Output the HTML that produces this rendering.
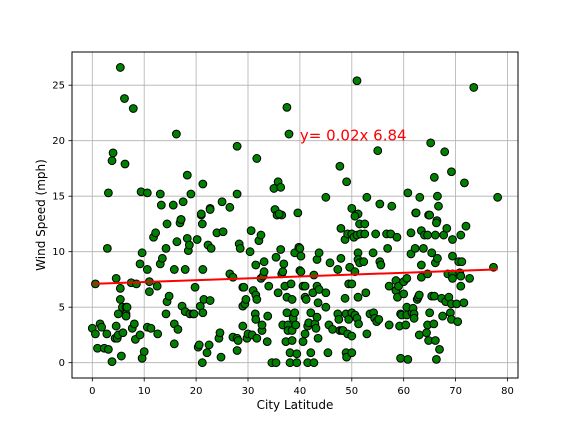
<!DOCTYPE html>
<html><head><meta charset="utf-8"><style>
body{margin:0;background:#fff}
svg{display:block;font-family:"DejaVu Sans","Liberation Sans",sans-serif}
</style></head><body>
<svg id="chart" width="576" height="432"></svg>
<script>
const latitudes=[3.1,5.4,6.2,7.9,4.0,3.8,6.3,9.4,10.6,13.1,13.3,15.6,16.2,17.5,18.3,19.0,17.1,21.3,21.0,22.7,25.0,26.5,27.9,27.9,31.7,35.0,35.8,36.3,35.2,35.6,36.5,37.5,37.9,
51.0,73.5,55.0,47.7,49.0,45.0,52.9,50.0,51.2,50.6,55.4,57.7,60.8,63.1,62.3,64.8,66.5,66.7,65.2,67.9,65.9,69.2,71.7,78.1,66.4,
0,0.6,0.6,1.0,1.5,1.8,2.3,2.8,2.9,3.1,3.8,4.4,4.6,4.6,4.8,5.0,5.0,5.4,5.4,5.6,5.8,5.9,6.5,6.5,6.5,6.7,7.5,7.7,8.1,8.3,8.5,9.2,9.2,9.6,9.6,10.0,10.6,10.6,11.0,11.0,11.3,11.8,12.2,12.5,12.6,13.1,13.5,14.2,14.2,14.4,14.4,14.8,15.8,15.8,15.8,16.3,16.5,16.9,17.1,17.3,17.9,17.9,18.3,18.5,18.7,18.8,19.4,19.6,19.8,20.2,20.4,20.6,20.8,21.0,21.2,21.2,21.3,21.3,21.5,22.1,22.3,22.5,22.7,22.9,22.7,24.0,24.4,24.6,24.8,25.2,26.5,27.1,27.1,27.9,27.9,28.1,28.3,28.5,29.0,29.0,29.0,29.2,29.4,29.6,29.8,30.0,30.4,30.6,30.8,31.0,31.4,31.5,31.5,31.5,31.7,31.7,32.1,32.5,32.5,32.7,32.7,32.9,33.1,33.1,33.7,33.8,34.0,34.6,35.4,35.4,35.8,36.0,36.3,36.5,36.7,36.7,36.9,37.1,37.3,37.5,37.5,37.7,37.7,38.1,38.1,38.3,38.5,38.5,38.5,38.7,39.0,39.0,39.2,39.4,39.4,39.8,39.6,40.0,
40.0,40.2,40.2,40.6,40.6,41.0,41.0,41.2,41.0,41.5,41.7,42.1,42.1,41.5,42.7,42.5,42.7,42.9,43.1,43.3,43.3,43.5,43.5,43.7,43.3,43.7,45.0,45.0,45.4,45.8,45.6,46.3,47.3,47.3,47.5,47.7,47.9,47.9,48.1,48.3,48.7,48.7,48.9,48.9,49.0,49.2,49.2,49.4,49.4,49.6,50.0,50.0,50.0,50.0,50.0,50.4,50.6,50.6,51.0,51.0,51.2,51.2,51.2,51.3,51.5,51.5,51.7,52.3,52.5,52.5,52.7,52.9,53.5,54.1,54.2,54.4,54.6,54.8,55.2,55.4,55.6,56.7,56.9,57.2,57.2,57.5,58.5,58.5,58.7,58.8,59.0,59.2,59.4,59.4,59.6,60.0,60.0,60.4,60.6,60.6,60.6,60.8,61.4,61.4,61.6,61.8,62.0,62.0,62.2,62.4,62.6,62.8,63.0,63.0,63.4,63.4,63.4,63.8,64.0,64.4,64.6,64.6,64.6,64.8,65.0,65.0,65.4,65.4,65.8,65.9,66.1,66.1,66.1,66.3,66.3,66.5,66.9,67.3,67.5,67.7,68.1,68.3,68.5,68.7,69.0,69.2,69.4,69.4,69.4,69.4,69.2,70.2,70.4,70.6,70.8,71.0,71.0,71.0,71.2,71.6,72.0,72.7,77.3];
const windSpeeds=[15.3,26.6,23.8,22.9,18.9,18.2,17.9,15.4,15.3,15.2,14.2,14.2,20.6,14.5,16.9,15.2,12.9,16.1,13.3,13.9,14.5,14.0,19.5,15.2,18.4,15.7,16.3,15.8,13.8,13.3,13.3,23.0,20.6,
25.4,24.8,19.1,17.7,16.3,14.9,14.9,13.9,13.4,13.2,14.3,14.1,15.3,14.9,13.5,13.3,15.0,14.1,19.8,19.0,16.7,17.2,16.2,14.9,12.8,
3.1,7.1,2.6,1.3,3.5,3.2,1.3,2.6,10.3,1.2,0.1,2.2,7.6,3.3,2.2,2.5,4.4,6.7,5.7,0.6,5.0,2.7,5.0,4.4,4.2,5.0,7.2,3.1,3.5,2.1,7.1,2.5,8.9,9.9,0.4,1.0,8.4,3.2,7.3,6.4,3.1,11.3,11.7,6.9,2.6,8.9,9.4,10.3,4.4,12.5,5.5,6.0,8.4,1.7,3.5,10.9,3.0,12.6,12.9,5.1,8.4,4.6,11.2,10.1,10.6,4.4,4.4,4.4,6.8,11.1,1.4,1.6,5.1,13.4,12.5,0,8.4,4.5,5.7,0.9,10.6,1.6,5.6,10.3,13.8,11.7,2.2,2.7,0.5,11.8,8.0,7.7,2.3,2.2,1.1,2.0,10.7,10.3,6.8,5.1,3.3,6.8,5.3,5.7,2.2,2.6,10.0,11.9,2.5,6.5,4.4,8.8,6.1,3.9,2.2,5.7,11.0,11.5,7.6,2.9,3.4,7.8,8.2,9.1,1.9,4.2,6.9,0,9.5,0,6.3,13.4,10.2,8.0,8.2,3.4,8.9,6.9,1.9,5.9,4.5,3.4,2.9,0.9,0,7.1,5.7,2.9,2.0,4.0,9.9,4.5,3.4,0,0.8,10.4,13.5,8.3,
10.3,9.6,8.2,6.9,1.9,6.9,5.9,5.7,2.6,3.3,3.6,4.5,0.9,0,0,6.3,7.9,3.5,3.1,4.1,6.9,5.4,2.2,6.6,9.3,9.9,6.3,5.0,0.9,9.0,3.4,3.0,8.4,4.4,3.9,2.9,9.4,12.1,2.9,2.9,11.1,5.8,4.4,0.9,0.5,11.6,2.6,7.1,3.9,8.6,7.1,11.6,4.5,2.4,0.9,11.3,8.2,4.3,11.5,4.0,9.9,9.3,5.9,3.5,12.5,9.0,11.6,9.1,12.5,11.6,6.3,2.6,4.4,9.9,4.5,4.0,11.6,3.7,3.9,9.1,8.8,11.6,10.3,6.9,3.4,11.6,7.4,6.5,11.3,5.9,6.9,3.3,4.4,0.4,4.3,7.3,6.2,3.4,7.6,5.0,4.3,0.3,11.7,9.8,4.5,4.9,4.4,4.0,10.3,13.5,5.7,5.9,6.1,2.5,11.9,8.8,7.7,10.3,11.5,2.7,3.4,11.5,8.0,2.0,13.3,4.5,9.9,6.0,3.5,6.0,11.5,9.0,2.0,0.3,12.6,9.4,1.2,5.8,4.2,11.5,5.5,12.1,8.0,5.9,4.5,5.3,9.6,8.0,7.6,11.1,3.9,5.3,3.7,9.1,8.1,7.8,6.9,11.5,9.1,5.4,12.3,7.6,8.6];
const xTicks=[0,10,20,30,40,50,60,70,80];
const yTicks=[0,5,10,15,20,25];

const NS="http://www.w3.org/2000/svg";
const svg=document.getElementById('chart');
const L=72,R=518,T=52,B=378;
const xs=v=>92.3+v*5.19;
const ys=v=>362.7-v*11.1;
function mk(tag,attrs,parent){const e=document.createElementNS(NS,tag);for(const k in attrs)e.setAttribute(k,attrs[k]);(parent||svg).appendChild(e);return e;}

// grid
const grid=mk('g',{});


xTicks.forEach(t=>{
  const l=mk('line',{x1:xs(t),x2:xs(t),y1:T,y2:B,stroke:'#b0b0b0','stroke-width':0.8},grid);
  
  
});
yTicks.forEach(t=>{
  const l=mk('line',{x1:L,x2:R,y1:ys(t),y2:ys(t),stroke:'#b0b0b0','stroke-width':0.8},grid);
  
  
});

// points
const pts=mk('g',{});


latitudes.forEach((lat,i)=>{
  const c=mk('circle',{cx:xs(lat),cy:ys(windSpeeds[i]),r:3.9,fill:'#008000',stroke:'#000','stroke-width':1},pts);
  
  
});

// regression
const n=latitudes.length;
const mx=latitudes.reduce((a,b)=>a+b,0)/n, my=windSpeeds.reduce((a,b)=>a+b,0)/n;
let sxy=0,sxx=0;latitudes.forEach((x,i)=>{sxy+=(x-mx)*(windSpeeds[i]-my);sxx+=(x-mx)*(x-mx);});
const slope=sxy/sxx, icpt=my-slope*mx;
const xmin=Math.min(...latitudes), xmax=Math.max(...latitudes);
const reg=mk('line',{x1:xs(xmin),y1:ys(slope*xmin+icpt),x2:xs(xmax),y2:ys(slope*xmax+icpt),stroke:'#ff0000','stroke-width':2});



const eq=mk('text',{x:xs(40),y:ys(20),fill:'#ff0000','font-size':15});
eq.textContent='y= 0.02x 6.84';



// frame
const fr=mk('rect',{x:L,y:T,width:R-L,height:B-T,fill:'none',stroke:'#000','stroke-width':1});



// ticks
xTicks.forEach(t=>{
  mk('line',{x1:xs(t),x2:xs(t),y1:B,y2:B+3.5,stroke:'#000','stroke-width':0.8});
  const tx=mk('text',{x:xs(t),y:B+16,'text-anchor':'middle','font-size':10,fill:'#000'});
  tx.textContent=t;
  
  
});
yTicks.forEach(t=>{
  mk('line',{x1:L-3.5,x2:L,y1:ys(t),y2:ys(t),stroke:'#000','stroke-width':0.8});
  const tx=mk('text',{x:L-7,y:ys(t)+3.5,'text-anchor':'end','font-size':10,fill:'#000'});
  tx.textContent=t;
  
  
});

const xt=mk('text',{x:295,y:409,'text-anchor':'middle','font-size':12,fill:'#000'});
xt.textContent='City Latitude';


const yt=mk('text',{x:45,y:215,'text-anchor':'middle','font-size':12,fill:'#000',transform:'rotate(-90 45 215)'});
yt.textContent='Wind Speed (mph)';


</script>
</body></html>
